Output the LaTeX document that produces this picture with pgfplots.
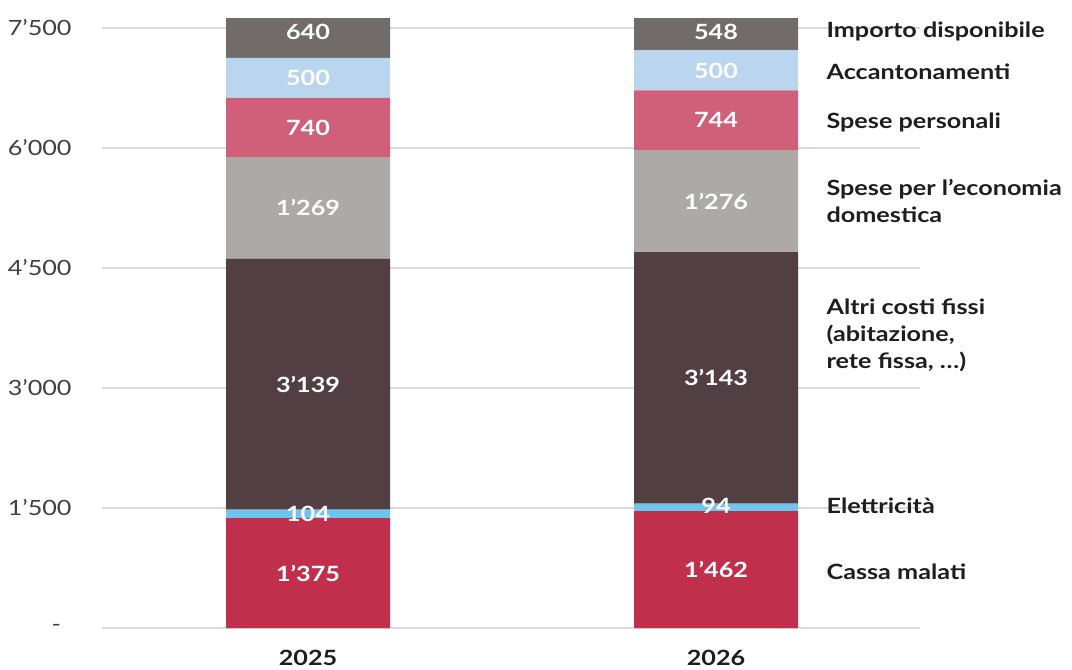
\documentclass[border=0pt]{standalone}
\usepackage{pgfplots}
\pgfplotsset{compat=1.18}
\usepackage{pgfplotstable}
\usepackage{fontspec}
\setmainfont{Lato}[FakeStretch=1.2]

\definecolor{cassa}{HTML}{C0304D}
\definecolor{elet}{HTML}{6EC6F0}
\definecolor{altri}{HTML}{523F43}
\definecolor{dom}{HTML}{ADA9A7}
\definecolor{pers}{HTML}{D0607A}
\definecolor{acc}{HTML}{BAD6EE}
\definecolor{imp}{HTML}{716B6A}
\definecolor{gridc}{HTML}{DADADA}
\definecolor{txt}{HTML}{1E1E1E}

\pgfplotstableread{
x cassa elet altri dom pers acc imp
0 1375 104 3139 1269 740 500 640
1 1462 94 3143 1276 744 500 548
}\costs

\pgfplotsset{base/.style={
  at={(0,0)}, anchor=south west,
  scale only axis, width=409pt, height=305pt,
  xmin=-0.505, xmax=1.5, ymin=0, ymax=7625,
}}

\begin{document}
\begin{tikzpicture}[font=\fontsize{10.5}{12.6}\selectfont]
\useasboundingbox (-51pt,-21pt) rectangle (485pt,314pt);
\begin{axis}[base,
  ybar stacked, bar width=0.402,
  clip mode=individual,
  axis line style={draw=none},
  major tick length=0pt,
  ymajorgrids, grid style={gridc, line width=0.8pt},
  ytick={0,1500,3000,4500,6000,7500},
  yticklabels={\makebox[10pt][l]{-},1’500,3’000,4’500,6’000,7’500},
  yticklabel style={anchor=east, inner sep=0pt, xshift=-15pt, text=txt!85},
  xtick={0,1}, xticklabels={2025,2026},
  xticklabel style={anchor=north, inner sep=0pt, yshift=-11pt, font=\fontsize{10.5}{12.6}\selectfont\bfseries, text=txt},
]
\addplot[fill=cassa, draw=none] table[x=x, y=cassa]{\costs};
\addplot[fill=elet, draw=none] table[x=x, y=elet]{\costs};
\addplot[fill=altri, draw=none] table[x=x, y=altri]{\costs};
\addplot[fill=dom, draw=none] table[x=x, y=dom]{\costs};
\addplot[fill=pers, draw=none] table[x=x, y=pers]{\costs};
\addplot[fill=acc, draw=none] table[x=x, y=acc]{\costs};
\addplot[fill=imp, draw=none] table[x=x, y=imp]{\costs};
\end{axis}
\begin{axis}[base, hide axis, clip=false]
\addplot[only marks, mark=none, point meta=explicit symbolic,
  nodes near coords, nodes near coords align=center,
  every node near coord/.append style={anchor=center, text=white, font=\fontsize{10.5}{12.6}\selectfont\bfseries}]
  coordinates {
  (0,687) [1’375] (0,1427) [104] (0,3048) [3’139] (0,5252) [1’269]
  (0,6257) [740] (0,6877) [500] (0,7445) [640]
  (1,731) [1’462] (1,1525) [94] (1,3127) [3’143] (1,5337) [1’276]
  (1,6347) [744] (1,6969) [500] (1,7455) [548]
  };
\begin{scope}[every node/.style={anchor=west, inner sep=0pt, text=txt, font=\fontsize{10.5}{13.5}\selectfont\bfseries, align=left}]
\node at (axis cs:1.27,7462) {Importo disponibile};
\node at (axis cs:1.27,6950) {Accantonamenti};
\node at (axis cs:1.27,6325) {Spese personali};
\node at (axis cs:1.27,5340) {Spese per l’economia\\domestica};
\node at (axis cs:1.27,3660) {Altri costi fissi\\(abitazione,\\rete fissa, …)};
\node at (axis cs:1.27,1530) {Elettricità};
\node at (axis cs:1.27,700) {Cassa malati};
\end{scope}
\end{axis}
\end{tikzpicture}
\end{document}
